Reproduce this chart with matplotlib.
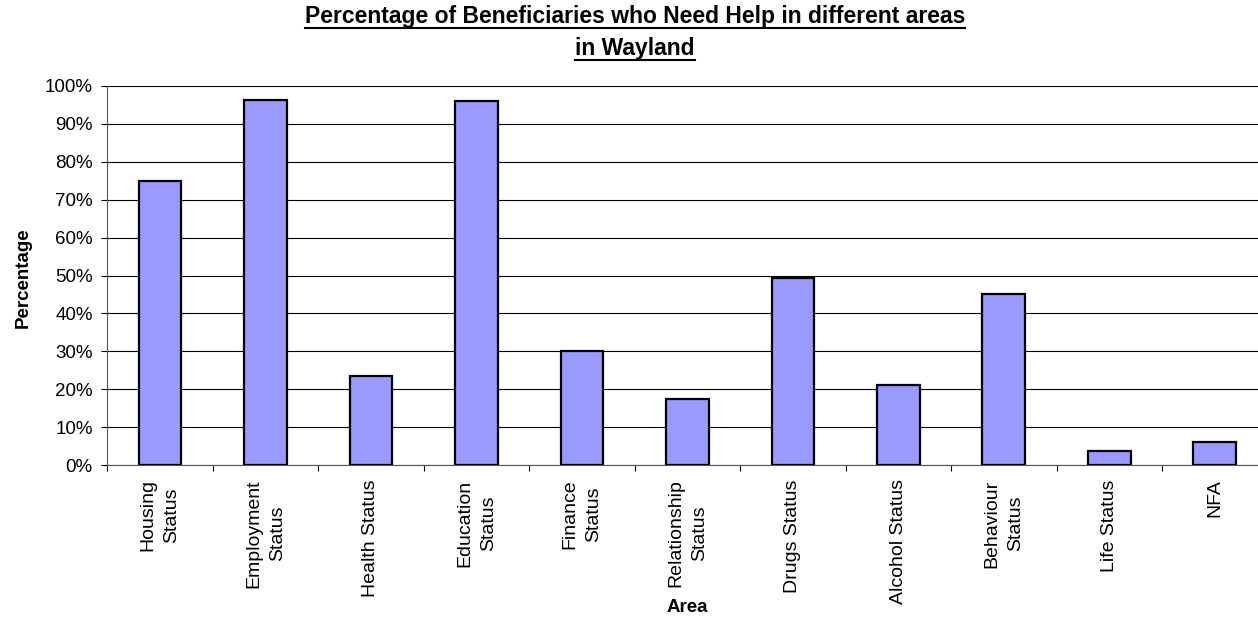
import numpy as np
import matplotlib
matplotlib.use('Agg')
import matplotlib.pyplot as plt
from matplotlib.lines import Line2D
from matplotlib.ticker import PercentFormatter

plt.rcParams['font.family'] = ['Liberation Sans', 'DejaVu Sans']

categories = ['Housing\nStatus', 'Employment\nStatus', 'Health Status', 'Education\nStatus',
              'Finance\nStatus', 'Relationship\nStatus', 'Drugs Status', 'Alcohol Status',
              'Behaviour\nStatus', 'Life Status', 'NFA']
values = [75.0, 96.3, 23.5, 96.1, 30.0, 17.4, 49.4, 21.1, 45.0, 3.8, 6.1]
yticks = list(range(0, 101, 10))

W, H = 1258, 618
fig = plt.figure(figsize=(W / 100, H / 100), dpi=100)
# plot area runs past the right edge of the picture, as in the reference
left, right, bottom, top = 107.3, 1267.5, 465, 86
ax = fig.add_axes([left / W, 1 - bottom / H, (right - left) / W, (bottom - top) / H])

x = np.arange(len(categories))
ax.bar(x, values, width=0.405, color='#9999FF', edgecolor='black', linewidth=1.6, zorder=3)

ax.set_xlim(-0.5, len(categories) - 0.5)
ax.set_ylim(0, 100)
ax.set_yticks(yticks)
ax.yaxis.set_major_formatter(PercentFormatter(decimals=0))
ax.yaxis.grid(True, color='black', linewidth=0.8, zorder=0)
ax.set_axisbelow(True)

ax.set_xticks(np.arange(len(categories) + 1) - 0.5)
ax.set_xticklabels([])
ax.tick_params(axis='both', direction='out', length=4, width=0.8, colors='black', labelsize=13.5)
ax.tick_params(axis='y', pad=6.5)

for s in ['top', 'right']:
    ax.spines[s].set_visible(False)
for s in ['left', 'bottom']:
    ax.spines[s].set_color('#555555')
    ax.spines[s].set_linewidth(0.8)

for xi, lab in zip(x, categories):
    ax.text(xi, -0.038, lab, transform=ax.get_xaxis_transform(), rotation=90,
            ha='center', va='top', ma='center', fontsize=14, linespacing=1.5)

fig.text((left + right) / 2 / W, 1 - 607 / H, 'Area', ha='center', va='center',
         fontsize=13.5, fontweight='bold')
fig.text(23 / W, 1 - 278 / H, 'Percentage', ha='center', va='center', rotation=90,
         fontsize=13.5, fontweight='bold')

titles = [('Percentage of Beneficiaries who Need Help in different areas', 23.3),
          ('in Wayland', 55)]
fig.canvas.draw()
renderer = fig.canvas.get_renderer()
for txt, yb in titles:
    t = fig.text(635 / W, 1 - yb / H, txt, ha='center', va='baseline',
                 fontsize=16.5, fontweight='bold')
    bb = t.get_window_extent(renderer)
    y_line = 1 - (yb + 4.5) / H
    fig.add_artist(Line2D([bb.x0 / W, bb.x1 / W], [y_line, y_line],
                          color='black', linewidth=1.5, transform=fig.transFigure))

fig.savefig('out.png', dpi=100)
